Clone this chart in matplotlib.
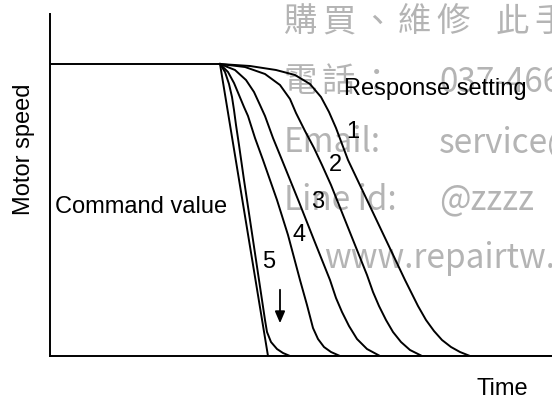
import matplotlib
matplotlib.use("Agg")
import matplotlib.pyplot as plt

# time / speed readings (arbitrary units, speed 292 = command level)
cmd_t = [0, 170, 218, 502]
cmd_v = [292, 292, 0, 0]

# response curves, setting 1 (slowest) .. 5 (fastest)
c1_t = [170, 200, 226, 245, 260, 271, 279, 286, 298, 317, 336, 355, 368, 376, 384, 392, 401, 410, 420]
c1_v = [292, 290, 286, 281, 272, 259, 244, 228, 196, 156, 116, 76, 50, 36, 25, 16, 9, 4, 0]
c2_t = [170, 195, 215, 230, 240, 246, 255, 264, 272, 281, 299, 317, 323, 329, 336, 343, 351, 360, 372]
c2_v = [292, 289, 282, 271, 257, 243, 225, 208, 191, 171, 126, 81, 64, 50, 36, 24, 14, 6, 0]
c3_t = [170, 185, 196, 204, 210, 215, 223, 232, 249, 264, 280, 286, 292, 299, 307, 317, 330]
c3_v = [292, 286, 276, 264, 251, 240, 218, 196, 154, 116, 76, 58, 44, 30, 17, 7, 0]
c4_t = [170, 178, 184, 189, 194, 198, 205, 213, 227, 238, 250, 257, 263, 268, 274, 281, 290]
c4_v = [292, 284, 273, 261, 249, 240, 218, 196, 156, 121, 76, 51, 28, 17, 9, 4, 0]
c5_t = [170, 175, 179, 182, 184, 186, 189, 194, 200, 206, 212, 215, 217, 221, 227, 233, 240]
c5_v = [292, 284, 272, 259, 246, 231, 211, 176, 136, 96, 56, 36, 24, 14, 7, 3, 0]

curves = [(c1_t, c1_v), (c2_t, c2_v), (c3_t, c3_v), (c4_t, c4_v), (c5_t, c5_v)]
labels = ["1", "2", "3", "4", "5"]
label_pos = [(303, 224), (285, 191), (268, 154), (249, 121), (219, 94)]

W, H = 552, 400
fig = plt.figure(figsize=(W / 100, H / 100), dpi=100)
ax = fig.add_axes([50 / W, 44 / H, 502 / W, 342 / H])
ax.set_facecolor("none")
ax.set_xlim(0, 502)
ax.set_ylim(0, 342)
for s in ["top", "right"]:
    ax.spines[s].set_visible(False)
for s in ["left", "bottom"]:
    ax.spines[s].set_linewidth(1.4)
ax.set_xticks([])
ax.set_yticks([])

ax.plot(cmd_t, cmd_v, color="black", lw=1.4)
for t, v in curves:
    ax.plot(t, v, color="black", lw=1.4)

font = "Liberation Sans"
fs = 17
for lab, (x, y) in zip(labels, label_pos):
    ax.text(x, y, lab, fontsize=fs, family=font, ha="center", va="center")

ax.text(5, 143, "Command value", fontsize=fs, family=font, va="baseline")
ax.text(294, 261, "Response setting", fontsize=fs, family=font, va="baseline")
ax.annotate("", xy=(230, 30), xytext=(230, 69),
            arrowprops=dict(arrowstyle="-|>,head_width=0.3,head_length=0.7",
                            color="black", lw=1.3))

fig.text(502 / W, 1 - 389 / H, "Time", fontsize=fs, family=font, ha="center", va="center")
fig.text(24 / W, 1 - 149 / H, "Motor speed", fontsize=fs, family=font,
         rotation=90, ha="center", va="center")

# watermark (drawn behind the chart)
wm = dict(color="#b4b4b4", fontsize=24, family=["Noto Sans CJK TC", "DejaVu Sans"],
          va="center", zorder=-1)


def cjk_row(txt, x0, y, pitch=38):
    # CJK characters in the scan sit on a wider pitch than the font's own
    for i, ch in enumerate(txt):
        fig.text((x0 + i * pitch) / W, 1 - y / H, ch, **wm)


cjk_row("購買、維修", 284, 22)
cjk_row("此手", 496, 22)
cjk_row("電話：", 284, 82)
fig.text(439 / W, 1 - 82 / H, "037-466", **wm)
fig.text(284 / W, 1 - 143 / H, "Email:", **wm)
fig.text(439 / W, 1 - 143 / H, "service@", **wm)
fig.text(284 / W, 1 - 200 / H, "Line id:", **wm)
fig.text(439 / W, 1 - 200 / H, "@zzzz", **wm)
fig.text(324 / W, 1 - 258 / H, "www.repairtw.com", **wm)

fig.savefig("out.png", dpi=100)
